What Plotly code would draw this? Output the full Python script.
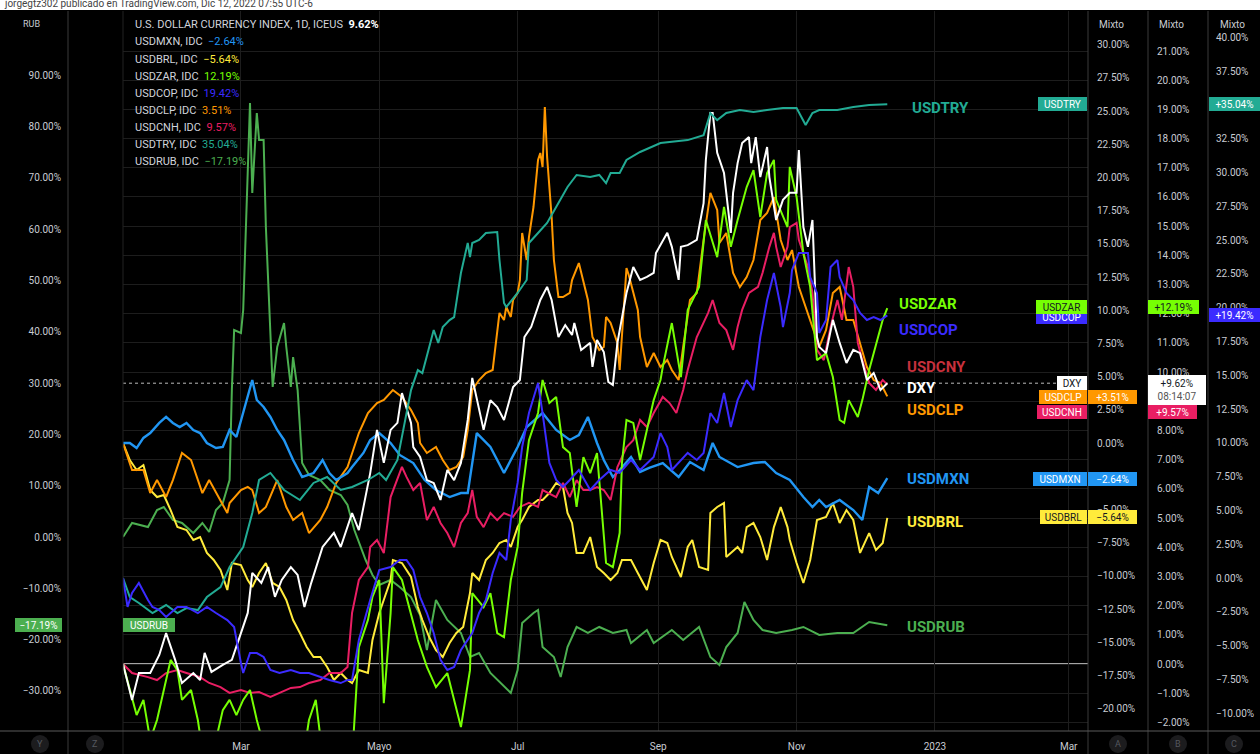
import pandas as pd
import plotly.graph_objects as go

# ---------------- data (day offset from START, % change on its own scale) ----------------
START = "2022-01-08"

dxy = [(0,0),(4,-1.23),(7,-0.31),(12,-0.31),(16,0.31),(19,1.06),(23,0.14),(26,-0.65),(31,-0.31),(34,-0.55),(36,0.38),(39,-0.27),(44,-0.03),(48,0.14),(52,1.06),(55,1.75),(57,3.12),(61,2.78),(64,3.32),(67,2.30),(70,2.88),(74,3.32),(77,3.05),(80,1.95),(83,2.78),(88,4.01),(93,4.49),(96,4.01),(101,5.17),(104,4.59),(109,6.54),(112,8.02),(115,6.89),(118,8.02),(121,8.26),(123,9.28),(127,8.26),(128,7.43),(131,7.09),(134,6.30),(137,6.20),(140,5.62),(143,6.65),(146,6.30),(149,6.89),(152,8.36),(154,9.80),(156,9.04),(159,8.02),(162,9.04),(165,8.80),(168,8.36),(172,9.49),(175,9.73),(177,11.20),(180,11.55),(184,12.47),(187,12.92),(189,12.47),(192,11.20),(195,11.61),(198,11.27),(199,11.68),(202,10.76),(206,11.0),(207,10.18),(209,11.10),(212,10.69),(214,9.66),(216,9.56),(218,11.0),(222,12.71),(225,13.60),(228,13.16),(231,13.26),(234,13.40),(235,14.08),(240,14.77),(242,14.29),(245,13.16),(246,14.29),(249,14.35),(253,14.53),(256,15.79),(257,17.27),(259,18.88),(260,18.88),(262,17.51),(265,16.82),(266,16.14),(268,14.77),(269,16.14),(271,17.16),(273,17.85),(276,18.05),(277,17.16),(279,18.05),(281,16.68),(284,17.71),(285,16.68),(288,15.21),(291,15.90),(294,16.14),(297,16.14),(298,17.61),(300,14.97),(302,14.29),(304,15.21),(306,11.20),(307,10.86),(310,10.65),(313,11.79),(316,11.0),(319,10.31),(322,10.76),(325,10.65),(328,9.73),(331,9.97),(334,9.39),(337,9.62)]

mxn = [(0,0),(3,0),(6,-0.38),(9,0.38),(12,0.75),(16,1.51),(19,1.96),(22,1.51),(25,1.20),(28,1.51),(31,0.98),(34,0.75),(37,0),(41,-0.38),(44,-0.30),(47,0.98),(50,0.45),(53,2.26),(56,3.99),(57,4.74),(59,3.24),(62,2.71),(65,1.96),(68,0.98),(71,0.23),(75,-1.28),(79,-2.56),(84,-2.26),(88,-1.28),(91,-2.26),(94,-2.79),(99,-2.26),(101,-1.81),(106,-0.75),(109,0.23),(113,0.75),(118,0),(122,-0.90),(128,-1.51),(133,-2.79),(138,-3.54),(144,-4.07),(149,-3.77),(152,-3.77),(156,0.75),(159,0.23),(162,-0.30),(168,-2.26),(171,-1.28),(174,-0.30),(178,1.20),(185,2.26),(191,0.98),(197,0.23),(201,0.60),(205,1.96),(209,0),(212,-1.28),(216,-2.56),(219,-2.03),(224,-1.05),(228,-2.18),(232,-1.88),(238,-1.51),(245,-2.56),(250,-1.43),(256,-2.03),(260,0),(263,-1.05),(271,-1.81),(278,-1.51),(283,-1.43),(288,-2.26),(294,-2.79),(300,-4.07),(304,-4.82),(307,-4.29),(310,-4.82),(316,-4.29),(322,-5.05),(326,-5.80),(329,-3.31),(333,-3.77),(337,-2.64)]

brl = [(0,0),(3,-1.28),(6,-2.03),(9,-1.66),(12,-3.54),(15,-4.07),(18,-3.92),(21,-5.05),(24,-6.33),(28,-6.55),(31,-7.30),(34,-7.08),(37,-8.28),(40,-8.81),(43,-9.56),(46,-11.07),(48,-9.04),(52,-9.19),(55,-10.32),(57,-10.84),(60,-9.79),(63,-9.04),(66,-10.54),(69,-10.84),(72,-11.82),(75,-13.33),(78,-14.31),(81,-15.36),(84,-16.11),(87,-16.11),(90,-16.87),(93,-17.85),(96,-17.32),(99,-17.85),(101,-18.07),(104,-17.09),(108,-17.32),(110,-14.83),(113,-12.80),(118,-10.32),(119,-8.81),(123,-9.04),(127,-10.09),(130,-12.35),(132,-13.33),(135,-14.61),(138,-15.59),(141,-16.11),(144,-15.06),(147,-14.31),(150,-13.86),(153,-11.30),(154,-9.79),(157,-10.32),(160,-8.81),(163,-8.28),(166,-7.53),(169,-7.30),(171,-7.83),(174,-6.33),(176,-5.80),(179,-4.82),(183,-4.29),(185,-4.29),(188,-3.77),(191,-3.01),(194,-3.31),(196,-5.27),(198,-6.02),(200,-8.28),(203,-8.28),(206,-7.08),(209,-9.34),(212,-9.79),(215,-10.32),(218,-9.79),(220,-8.81),(224,-8.81),(227,-9.79),(231,-11.07),(234,-9.04),(237,-7.30),(240,-7.53),(242,-8.58),(246,-10.09),(249,-7.83),(251,-7.30),(254,-9.34),(258,-9.56),(259,-5.27),(262,-4.82),(265,-4.52),(266,-8.58),(271,-7.83),(273,-8.28),(275,-6.33),(278,-6.02),(281,-7.08),(284,-8.81),(287,-6.33),(290,-4.82),(293,-6.33),(294,-7.30),(297,-9.04),(300,-10.54),(303,-8.81),(306,-5.80),(310,-5.57),(313,-4.52),(316,-6.02),(319,-5.05),(322,-5.80),(325,-8.28),(329,-6.78),(332,-8.06),(335,-7.53),(337,-5.64)]

zar = [(0,0),(3,-0.89),(6,-1.75),(9,-1.23),(12,-2.6),(15,-1.92),(18,-0.89),(21,0.14),(24,-0.21),(26,-1.23),(30,-0.89),(33,-1.92),(35,-2.95),(38,-3.29),(41,-2.60),(44,-1.58),(47,-1.23),(50,-1.75),(53,-1.23),(56,-0.89),(59,-1.92),(62,-2.77),(65,-3.63),(69,-4.31),(74,-4.66),(78,-3.97),(82,-1.92),(85,-1.23),(87,-2.60),(91,-5.0),(96,-5.69),(99,-4.66),(101,-3.29),(104,0.58),(108,1.51),(110,2.30),(113,2.88),(115,-1.34),(118,1.75),(119,3.32),(123,2.88),(130,0.82),(134,-0.10),(138,-0.79),(143,-0.31),(146,-1.23),(149,-2.16),(153,-0.21),(154,2.43),(159,1.95),(162,2.43),(165,1.06),(168,0.92),(171,2.88),(174,4.01),(176,5.86),(179,7.67),(183,8.60),(185,9.73),(188,8.94),(191,9.15),(194,7.43),(197,7.23),(200,5.38),(203,7.09),(206,6.54),(209,7.23),(213,3.46),(216,3.32),(219,4.49),(220,6.89),(222,8.36),(225,8.26),(228,6.99),(231,8.02),(234,9.04),(237,9.73),(238,10.17),(242,11.68),(246,9.83),(249,12.13),(254,12.92),(257,15.21),(262,13.94),(265,15.66),(268,14.29),(271,15.21),(275,16.34),(278,16.92),(281,15.31),(284,16.82),(287,17.27),(288,15.90),(293,14.97),(294,17.03),(297,16.0),(300,14.08),(303,12.92),(306,10.41),(310,10.65),(313,9.83),(316,8.36),(318,8.26),(320,9.04),(324,8.46),(326,9.04),(329,10.07),(332,10.93),(335,11.79),(337,12.19)]

cop = [(0,0),(2,-2.14),(4,-1.11),(7,-0.37),(11,-1.63),(13,-2.14),(16,-2.37),(19,-2.88),(24,-2.14),(28,-2.14),(33,-2.59),(37,-2.14),(41,-2.59),(46,-3.11),(49,-3.62),(50,-4.59),(52,-6.29),(53,-7.03),(56,-5.55),(59,-5.55),(62,-5.84),(65,-6.80),(69,-7.03),(74,-6.80),(78,-7.03),(82,-7.03),(87,-7.32),(91,-7.54),(96,-7.77),(99,-7.54),(101,-7.54),(104,-4.59),(109,-1.63),(113,0.59),(118,0.81),(122,1.33),(125,1.33),(128,0.59),(131,-1.41),(134,-2.59),(137,-4.07),(140,-6.06),(143,-6.80),(146,-6.58),(149,-5.33),(152,-4.59),(154,-4.07),(157,-2.59),(160,-1.63),(163,0.37),(166,1.85),(169,1.33),(171,4.29),(174,7.03),(176,9.69),(179,12.20),(183,14.42),(185,12.20),(188,8.51),(191,7.25),(194,6.73),(197,7.25),(201,7.99),(206,6.51),(210,7.25),(215,7.99),(219,7.77),(224,8.73),(228,7.99),(234,8.95),(237,10.72),(240,9.69),(242,7.99),(249,9.25),(253,8.73),(256,9.25),(259,12.20),(262,11.46),(265,13.68),(268,11.17),(271,13.16),(275,14.64),(278,13.90),(281,17.82),(284,20.56),(287,22.56),(290,20.04),(291,18.56),(294,21.08),(295,22.78),(298,24.04),(302,24.04),(303,22.26),(306,21.08),(307,18.12),(310,19.08),(312,23.0),(315,23.52),(316,22.26),(319,21.08),(322,20.56),(325,19.60),(328,19.08),(331,19.30),(334,19.08),(337,19.42)]

clp = [(0,0),(4,-2.03),(9,-2.03),(12,-3.77),(15,-2.79),(19,-4.07),(22,-2.79),(25,-1.28),(26,-0.75),(30,-1.28),(33,-2.79),(35,-3.77),(38,-2.79),(43,-4.29),(46,-5.27),(47,-4.52),(52,-3.54),(55,-3.31),(57,-3.54),(60,-5.27),(63,-4.82),(68,-2.79),(72,-4.82),(75,-5.80),(79,-5.27),(82,-6.78),(87,-5.80),(90,-4.82),(94,-3.01),(99,-1.81),(101,-0.75),(104,0.75),(108,2.26),(112,3.01),(115,3.24),(119,3.99),(123,3.46),(127,2.48),(130,1.51),(131,0),(134,-0.75),(138,-0.30),(141,-1.28),(144,-2.03),(147,-1.81),(150,-1.05),(152,0.98),(153,2.48),(154,3.99),(157,4.74),(160,5.27),(163,5.50),(166,9.79),(168,9.26),(169,10.24),(171,9.49),(172,10.77),(174,11.30),(175,12.27),(176,15.81),(178,13.78),(179,15.51),(181,17.77),(183,21.31),(184,21.84),(185,20.78),(186,25.30),(187,21.54),(189,17.02),(190,13.78),(192,10.99),(194,10.99),(197,11.30),(198,12.27),(201,13.55),(205,10.77),(207,7.98),(210,7.0),(212,7.23),(213,9.49),(215,9.04),(218,7.53),(219,5.50),(222,13.18),(223,12.65),(227,10.02),(228,7.98),(231,5.72),(234,6.78),(237,5.72),(240,6.25),(242,5.50),(245,4.74),(247,7.23),(250,10.77),(253,11.30),(256,15.29),(259,18.83),(262,17.55),(263,15.06),(266,15.81),(269,12.80),(272,11.75),(275,12.50),(278,13.78),(281,16.79),(284,17.32),(287,18.52),(290,15.29),(293,13.78),(295,14.53),(298,11.75),(302,9.79),(304,8.73),(307,7.23),(310,8.51),(313,11.30),(316,11.75),(319,9.26),(322,9.26),(325,7.53),(328,5.72),(331,4.74),(334,4.52),(337,3.51)]

cnh = [(0,0),(4,-0.31),(11,-0.45),(15,-0.55),(19,-0.31),(24,-0.21),(28,-0.31),(34,-0.45),(38,-0.65),(43,-0.79),(47,-0.99),(52,-0.89),(56,-0.99),(60,-0.96),(65,-1.13),(69,-0.99),(74,-0.82),(78,-0.79),(82,-0.65),(87,-0.55),(91,-0.31),(96,-0.31),(99,-0.10),(101,1.75),(104,2.88),(108,3.32),(109,4.01),(112,4.25),(115,3.80),(118,5.72),(121,6.30),(123,6.75),(125,6.41),(128,5.96),(131,6.20),(134,4.93),(137,5.38),(140,4.83),(143,4.49),(146,4.01),(149,4.83),(152,5.17),(154,5.96),(156,5.04),(159,4.69),(162,5.17),(165,4.93),(168,5.17),(172,5.04),(175,5.38),(179,5.52),(183,5.38),(185,5.96),(191,5.72),(194,6.20),(197,5.72),(200,6.30),(203,5.96),(206,5.96),(209,6.06),(212,5.96),(215,5.62),(218,6.75),(222,7.43),(225,7.67),(228,8.36),(231,8.12),(234,8.60),(238,9.15),(241,8.94),(244,8.60),(247,9.39),(249,10.07),(253,11.20),(258,12.03),(260,12.47),(263,11.68),(266,11.44),(269,10.76),(271,11.55),(273,12.13),(276,12.71),(280,12.92),(282,13.40),(285,14.29),(287,14.77),(288,14.29),(290,13.60),(293,14.29),(294,14.97),(297,15.11),(298,14.53),(302,13.60),(304,12.71),(306,10.76),(309,10.41),(312,11.55),(315,12.47),(317,11.79),(320,13.60),(322,12.92),(324,11.0),(326,10.41),(329,9.63),(332,9.39),(335,9.73),(337,9.57)]

tryl = [(0,0),(3,-1.41),(7,-1.85),(13,-2.59),(19,-2.0),(24,-2.59),(28,-2.22),(33,-2.37),(37,-1.41),(43,-0.67),(47,0.81),(53,2.29),(57,4.81),(60,7.25),(65,7.77),(71,6.51),(78,5.77),(84,7.03),(90,7.47),(96,6.51),(101,6.73),(108,7.25),(113,7.77),(116,7.25),(121,8.73),(127,13.90),(130,15.38),(132,15.16),(137,18.34),(139,17.38),(141,18.56),(144,19.08),(146,19.30),(149,22.56),(152,24.78),(153,23.74),(154,24.78),(157,25.0),(160,25.52),(165,25.59),(166,23.52),(168,20.34),(169,20.04),(174,21.08),(178,22.04),(179,24.78),(183,25.52),(187,26.26),(191,27.44),(196,28.92),(200,29.81),(206,29.66),(210,29.81),(213,29.21),(215,29.95),(219,29.95),(222,30.92),(228,31.51),(237,32.17),(242,32.25),(249,32.39),(256,32.76),(259,34.39),(262,33.87),(266,34.39),(272,34.61),(278,34.46),(284,34.61),(291,34.76),(297,34.76),(301,33.50),(304,34.39),(307,34.61),(315,34.61),(322,34.83),(329,34.98),(337,35.04)]

rub = [(0,0),(4,2.73),(11,1.95),(15,5.26),(18,5.84),(22,3.31),(26,2.73),(31,0.78),(35,2.73),(38,0.97),(41,5.26),(44,6.62),(47,11.10),(48,28.64),(49,40.32),(52,39.74),(53,44.22),(56,84.54),(57,67.01),(59,82.60),(60,77.34),(62,77.34),(63,60.39),(65,40.91),(66,29.22),(68,37.01),(71,41.69),(72,37.01),(74,29.22),(75,35.06),(77,28.64),(79,14.42),(82,12.08),(87,11.10),(91,9.16),(96,8.18),(99,6.23),(102,1.36),(107,-4.48),(110,-7.40),(113,-9.35),(118,-8.38),(122,-9.74),(127,-11.69),(131,-15.19),(134,-22.01),(138,-12.27),(143,-16.17),(149,-18.70),(153,-23.38),(157,-22.60),(162,-26.49),(168,-29.22),(171,-30.39),(174,-25.91),(176,-16.75),(181,-14.80),(183,-14.22),(185,-21.43),(190,-23.38),(193,-27.27),(196,-21.43),(200,-17.53),(205,-18.70),(210,-17.53),(216,-18.70),(222,-18.12),(224,-20.65),(231,-18.12),(234,-20.65),(242,-18.12),(247,-20.06),(254,-17.53),(259,-23.38),(263,-24.93),(266,-21.43),(271,-18.70),(274,-12.66),(278,-16.17),(282,-18.12),(288,-18.70),(295,-18.12),(300,-17.53),(307,-19.09),(315,-18.70),(322,-18.70),(329,-16.56),(337,-17.19)]

last_vals = {"DXY": 9.62, "USDMXN": -2.64, "USDBRL": -5.64, "USDZAR": 12.19, "USDCOP": 19.42,
             "USDCLP": 3.51, "USDCNH": 9.57, "USDTRY": 35.04, "USDRUB": -17.19}

month_ticks = ["2022-03-01", "2022-05-01", "2022-07-01", "2022-09-01", "2022-11-01", "2023-01-01", "2023-03-01"]
month_labels = ["Mar", "Mayo", "Jul", "Sep", "Nov", "2023", "Mar"]

# ---------------- styling ----------------
C_DXY, C_MXN, C_BRL, C_ZAR = "#ffffff", "#2196f3", "#ffeb3b", "#76ff03"
C_COP, C_CLP, C_CNH, C_TRY, C_RUB = "#3b2bff", "#ff9800", "#e91e63", "#22ab94", "#4caf50"
TXT = "#c8cbd2"
FONT = "Roboto"

W, H, MT, MB = 1260, 754, 11, 23
PH = H - MT - MB


def px(x):
    return x / W


def py(y):
    return (H - MB - y) / PH


def rng(zero_px, per_unit):
    return [(zero_px - (H - MB)) / per_unit, (zero_px - MT) / per_unit]


def pct(v):
    s = f"{abs(v):.2f}%"
    return ("\u2212" + s) if v < -1e-9 else s


def sgn(v):
    return ("+" if v >= 0 else "\u2212") + f"{abs(v):.2f}%"


fig = go.Figure()


def add(data, color, axis, width=2.0):
    d, v = zip(*data)
    x = pd.Timestamp(START) + pd.to_timedelta(list(d), unit="D")
    fig.add_trace(go.Scatter(x=x, y=list(v), yaxis=axis, mode="lines",
                             line=dict(color=color, width=width), hoverinfo="skip"))


add(tryl, C_TRY, "y4")
add(rub, C_RUB, "y")
add(cop, C_COP, "y4")
add(cnh, C_CNH, "y3")
add(brl, C_BRL, "y2")
add(clp, C_CLP, "y2")
add(mxn, C_MXN, "y2", 2.4)
add(zar, C_ZAR, "y3")
add(dxy, C_DXY, "y3")

tick_font = dict(family=FONT, size=10, color=TXT)

lv = list(range(-30, 100, 10))
av = [x * 2.5 for x in range(-8, 13)]
bv = list(range(-2, 22))
cv = [x * 2.5 for x in range(-4, 17)]

fig.update_layout(
    width=W, height=H, margin=dict(l=0, r=0, t=MT, b=MB, pad=0),
    paper_bgcolor="#000000", plot_bgcolor="#000000", showlegend=False,
    font=dict(family=FONT, color=TXT),
    xaxis=dict(domain=[px(123), px(1088)], anchor="free", position=0, type="date",
               range=["2022-01-08", "2023-03-09 12:00"], tickvals=month_ticks, ticktext=month_labels,
               showgrid=True, gridcolor="#1d1d1d", gridwidth=1, zeroline=False, showline=False,
               ticks="", tickfont=tick_font, ticklabelstandoff=8, automargin=False, fixedrange=True),
    yaxis=dict(domain=[0, 1], anchor="free", position=px(68), side="left", range=rng(537, 5.133),
               tickvals=lv, ticktext=[pct(v) for v in lv], showgrid=False, zeroline=False,
               showline=False, ticks="", tickfont=tick_font, ticklabelstandoff=7, automargin=False),
    yaxis2=dict(overlaying="y", anchor="free", position=px(1088), side="right", range=rng(443, 13.28),
                tickvals=av, ticktext=[pct(v) for v in av], showgrid=False, zeroline=False,
                showline=False, ticks="", tickfont=tick_font, ticklabelstandoff=8, automargin=False),
    yaxis3=dict(overlaying="y", anchor="free", position=px(1148), side="right", range=rng(664, 29.19),
                tickvals=bv, ticktext=[pct(v) for v in bv], showgrid=True, gridcolor="#1d1d1d",
                zeroline=False, showline=False, ticks="", tickfont=tick_font, ticklabelstandoff=8,
                automargin=False),
    yaxis4=dict(overlaying="y", anchor="free", position=px(1208), side="right", range=rng(578, 13.52),
                tickvals=cv, ticktext=[pct(v) for v in cv], showgrid=False, zeroline=False,
                showline=False, ticks="", tickfont=tick_font, ticklabelstandoff=7, automargin=False),
)

shapes = []
# header strip
shapes.append(dict(type="rect", xref="paper", yref="paper", x0=0, x1=1, y0=py(10), y1=py(-5),
                   fillcolor="#ffffff", line=dict(width=0), layer="above"))
# separators
for xx, col in [(68, "#3a3a3a"), (123, "#232323"), (1088, "#3a3a3a"), (1148, "#3a3a3a"), (1208, "#3a3a3a")]:
    shapes.append(dict(type="line", xref="paper", yref="paper", x0=px(xx), x1=px(xx), y0=py(11), y1=py(754),
                       line=dict(color=col, width=1), layer="above"))
shapes.append(dict(type="line", xref="paper", yref="paper", x0=0, x1=1, y0=py(731), y1=py(731),
                   line=dict(color="#5a5a5a", width=1), layer="above"))
# comparison base line (0 on B scale) and DXY last-value dotted line
shapes.append(dict(type="line", xref="paper", yref="y3", x0=px(123), x1=px(1088), y0=0, y1=0,
                   line=dict(color="#dcdcdc", width=1.5), layer="below"))
shapes.append(dict(type="line", xref="paper", yref="y3", x0=px(123), x1=px(1088),
                   y0=last_vals["DXY"], y1=last_vals["DXY"],
                   line=dict(color="#bbbbbb", width=1, dash="dot"), layer="below"))
# bottom scale buttons
for xx in [40, 95, 1118, 1178, 1234]:
    shapes.append(dict(type="circle", xref="paper", yref="paper", x0=px(xx - 9), x1=px(xx + 9),
                       y0=py(753), y1=py(735), fillcolor="#1c1c1e", line=dict(width=0), layer="above"))

ann = []


def text(x, y, s, size=10, color=TXT, xanchor="left", bold=False):
    ann.append(dict(xref="paper", yref="paper", x=px(x), y=py(y), xanchor=xanchor, yanchor="middle",
                    text=("<b>%s</b>" % s) if bold else s, showarrow=False,
                    font=dict(family=FONT, size=size, color=color)))


def box(x0, x1, yc, s, bg, fg="#ffffff", h=14, size=10):
    ann.append(dict(xref="paper", yref="paper", x=px(x0), y=py(yc), xanchor="left", yanchor="middle",
                    text=s, showarrow=False, bgcolor=bg, width=x1 - x0, height=h, borderpad=0,
                    borderwidth=0, align="center", valign="middle",
                    font=dict(family=FONT, size=size, color=fg)))


text(2, 3, "jorgegtz302 publicado en TradingView.com, Dic 12, 2022 07:55 UTC-6", size=10, color="#444444")
text(21, 24, "RUB", size=9)
for xx in [1097, 1157, 1218]:
    text(xx, 24, "Mixto", size=10)
for xx, s in [(40, "Y"), (95, "Z"), (1118, "A"), (1178, "B"), (1234, "C")]:
    text(xx, 744, s, size=9, color="#55585f", xanchor="center")

# legend block
text(133, 24, "U.S. DOLLAR CURRENCY INDEX, 1D, ICEUS  <b><span style='color:#ffffff'>%.2f%%</span></b>"
     % last_vals["DXY"], size=11, color="#d1d4dc")
legend_rows = [("USDMXN", C_MXN), ("USDBRL", C_BRL), ("USDZAR", C_ZAR), ("USDCOP", C_COP),
               ("USDCLP", C_CLP), ("USDCNH", C_CNH), ("USDTRY", C_TRY), ("USDRUB", C_RUB)]
for i, (name, col) in enumerate(legend_rows):
    v = last_vals[name]
    text(133, 42 + i * 17.1, "%s, IDC  <span style='color:%s'>%s</span>" % (name, col, pct(v)),
         size=11, color="#d1d4dc")

# series names at the line ends
for s, col, x, y in [("USDTRY", C_TRY, 910, 108), ("USDZAR", C_ZAR, 897, 304), ("USDCOP", C_COP, 897, 330),
                     ("USDCNY", "#c8303c", 905, 367), ("DXY", C_DXY, 905, 388), ("USDCLP", C_CLP, 905, 410),
                     ("USDMXN", C_MXN, 905, 479), ("USDBRL", C_BRL, 905, 522), ("USDRUB", C_RUB, 905, 627)]:
    text(x, y, s, size=15, color=col, bold=True)

# price-line labels inside the pane
box(1038, 1087, 104, "USDTRY", C_TRY)
box(1036, 1087, 317, "USDCOP", C_COP)
box(1036, 1087, 307, "USDZAR", C_ZAR, fg="#131722")
box(1057, 1087, 383, "DXY", "#ffffff", fg="#131722")
box(1039, 1087, 397, "USDCLP", C_CLP)
box(1037, 1087, 412, "USDCNH", C_CNH)
box(1033, 1087, 479, "USDMXN", C_MXN)
box(1040, 1087, 517, "USDBRL", C_BRL, fg="#131722")
box(123, 175, 625, "USDRUB", C_RUB)

# last values on the scales
box(1088, 1137, 397, sgn(last_vals["USDCLP"]), C_CLP)
box(1088, 1137, 479, sgn(last_vals["USDMXN"]), C_MXN)
box(1088, 1137, 517, sgn(last_vals["USDBRL"]), C_BRL, fg="#131722")
box(1148, 1199, 307, sgn(last_vals["USDZAR"]), C_ZAR, fg="#131722")
box(1148, 1206, 390, sgn(last_vals["DXY"]) + "<br><span style='color:#555555'>08:14:07</span>",
    "#ffffff", fg="#131722", h=30)
box(1148, 1197, 412, sgn(last_vals["USDCNH"]), C_CNH)
box(1209, 1260, 104, sgn(last_vals["USDTRY"]), C_TRY)
box(1209, 1260, 315, sgn(last_vals["USDCOP"]), C_COP)
box(15, 62, 625, sgn(last_vals["USDRUB"]), C_RUB)

fig.update_layout(shapes=shapes, annotations=ann)
fig.write_html("out.html", config={"displayModeBar": False},
               post_script="document.body.style.margin='0';document.body.style.overflow='hidden';")
